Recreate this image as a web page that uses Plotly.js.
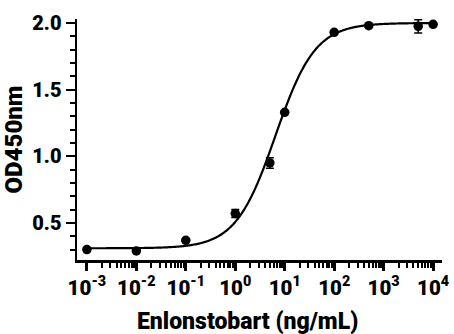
<!DOCTYPE html>
<html>
<head>
<meta charset="utf-8">
<script src="https://cdn.plot.ly/plotly-3.0.1.min.js"></script>
<style>
html,body{margin:0;padding:0;background:#fff;}
#chart{width:454px;height:334px;}
</style>
</head>
<body>
<div id="chart"></div>
<script>
// Measured data (concentration in ng/mL, OD450nm)
const concentration = [0.001, 0.01, 0.1, 1, 5, 10, 100, 500, 5000, 10000];
const od450 = [0.30, 0.29, 0.37, 0.57, 0.95, 1.33, 1.93, 1.98, 1.975, 1.99];
const odError = [0.005, 0.005, 0.012, 0.03, 0.04, 0.012, 0.01, 0.01, 0.05, 0.006];

// Four-parameter logistic fit parameters
const fitBottom = 0.31;
const fitTop = 2.0;
const fitEC50 = 6.5;
const fitHill = 1.08;

// Axis tick labels
const xTickVals = [0.001, 0.01, 0.1, 1, 10, 100, 1000, 10000];
const xTickText = ['10<sup>-3</sup>', '10<sup>-2</sup>', '10<sup>-1</sup>', '10<sup>0</sup>',
                   '10<sup>1</sup>', '10<sup>2</sup>', '10<sup>3</sup>', '10<sup>4</sup>'];
const yTickVals = [0.5, 1.0, 1.5, 2.0];
const yTickText = ['0.5', '1.0', '1.5', '2.0'];

// minor log ticks 2..9 within each decade
const xMinorVals = [];
for (let e = -3; e < 4; e++) {
  for (let m = 2; m <= 9; m++) xMinorVals.push(m * Math.pow(10, e));
}

// fitted curve sampled over the data range
const curveX = [], curveY = [];
for (let i = 0; i <= 300; i++) {
  const lx = -3 + 7 * i / 300;
  const x = Math.pow(10, lx);
  curveX.push(x);
  curveY.push(fitBottom + (fitTop - fitBottom) / (1 + Math.pow(fitEC50 / x, fitHill)));
}

const fontFam = 'Roboto, "Liberation Sans", Arial, sans-serif';

const traces = [
  {
    x: curveX, y: curveY, type: 'scatter', mode: 'lines',
    line: {color: '#000', width: 2.2, shape: 'spline'},
    hoverinfo: 'skip', showlegend: false
  },
  {
    x: concentration, y: od450, type: 'scatter', mode: 'markers',
    marker: {color: '#000', size: 9.5},
    error_y: {type: 'data', array: odError, visible: true, color: '#000', thickness: 1.5, width: 4},
    showlegend: false
  }
];

const layout = {
  width: 454, height: 334,
  margin: {l: 77, r: 12, t: 19, b: 74},
  paper_bgcolor: '#fff', plot_bgcolor: '#fff',
  font: {family: fontFam, color: '#000'},
  xaxis: {
    type: 'log',
    range: [-3.2, 4.18],
    tickmode: 'array', tickvals: xTickVals, ticktext: xTickText,
    ticks: 'outside', ticklen: 8, tickwidth: 3, tickcolor: '#000',
    minor: {tickmode: 'array', tickvals: xMinorVals, ticks: 'outside', ticklen: 5, tickwidth: 2, tickcolor: '#000', showgrid: false},
    showline: true, linecolor: '#000', linewidth: 2.5,
    showgrid: false, zeroline: false,
    tickfont: {family: fontFam, size: 20.5, color: '#000', weight: 900},
    title: {text: ''}
  },
  yaxis: {
    range: [0.222, 2.03],
    tickmode: 'array', tickvals: yTickVals, ticktext: yTickText,
    ticks: 'outside', ticklen: 9, tickwidth: 2, tickcolor: '#000',
    minor: {dtick: 0.1, tick0: 0, ticks: 'outside', ticklen: 5, tickwidth: 2, tickcolor: '#000', showgrid: false},
    showline: true, linecolor: '#000', linewidth: 2.5,
    showgrid: false, zeroline: false,
    tickfont: {family: fontFam, size: 20, color: '#000', weight: 900},
    title: {text: 'OD450nm', font: {family: fontFam, size: 24, color: '#000', weight: 900}, standoff: 6}
  },
  annotations: [
    {
      text: 'Enlonstobart (ng/mL)', xref: 'paper', yref: 'paper',
      x: 0.468, y: -0.255, xanchor: 'center', yanchor: 'middle', showarrow: false,
      font: {family: fontFam, size: 23, color: '#000', weight: 900}
    }
  ]
};

Plotly.newPlot('chart', traces, layout, {displayModeBar: false, staticPlot: true});
</script>
</body>
</html>
